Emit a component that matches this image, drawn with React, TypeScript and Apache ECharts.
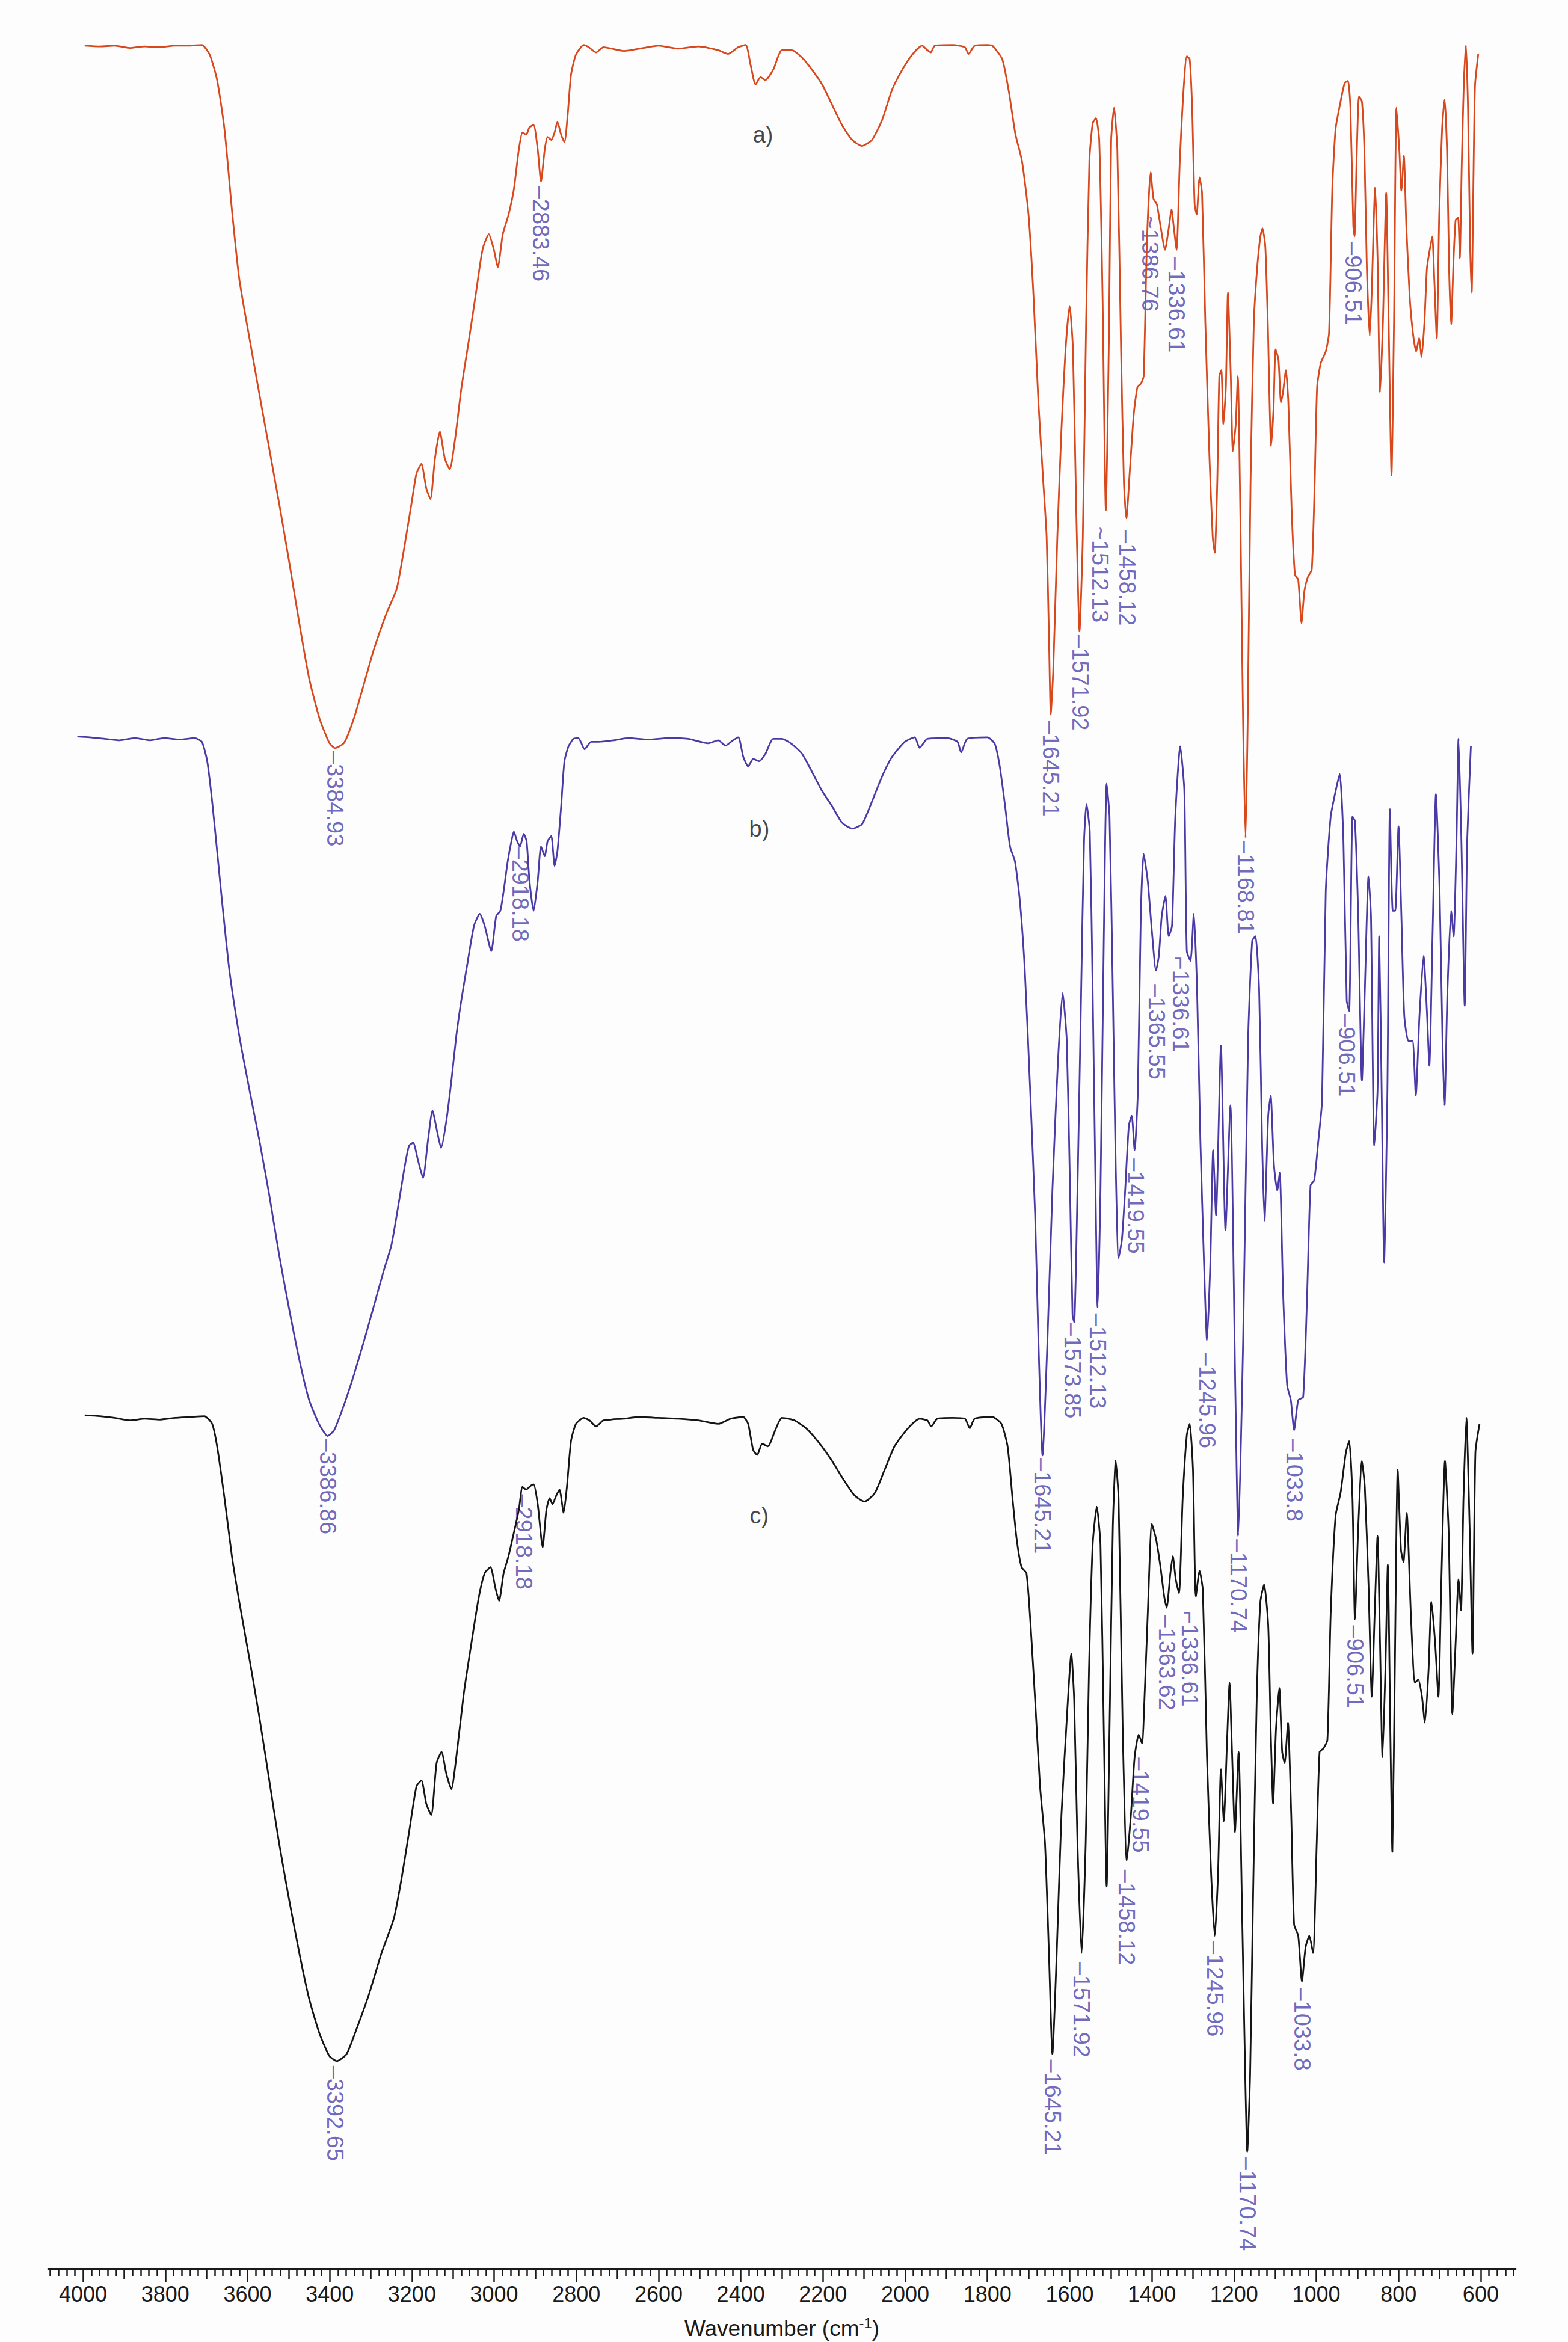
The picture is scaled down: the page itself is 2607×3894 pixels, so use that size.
import React, { useEffect, useRef } from 'react';
import * as echarts from 'echarts';

// Wavenumber (cm-1) vs transmittance-like value (arbitrary %, per trace)
const specA: number[][] = [
  [3996,99.9],[3959,99.8],[3923,99.9],[3887,99.6],[3850,99.8],[3814,99.7],[3777,99.9],[3741,99.9],[3711,100],
  [3692,98.7],[3674,95.3],[3656,88.7],[3638,78],[3620,68.7],[3595,60.7],[3571,53.3],[3547,46],[3523,38.7],[3498,30.7],
  [3474,22.7],[3450,15.3],[3425,10],[3401,6.7],[3387,6],[3365,6.7],[3341,10],[3316,14.7],[3292,19.3],[3262,24],[3237,27.3],
  [3219,32.7],[3201,38.7],[3189,42.7],[3177,44],[3165,40.7],[3155,39.3],[3144,44.7],[3132,48.3],[3120,44.7],[3108,43.3],
  [3095,47.3],[3080,54],[3061,60.7],[3043,67.3],[3028,72.7],[3013,74.7],[3001,72.7],[2991,70.3],[2979,74.7],[2965,77.3],
  [2952,80.7],[2940,86],[2931,88.3],[2922,88],[2914,89],[2904,89.3],[2894,86],[2886,81.7],[2877,86],[2870,87.7],[2861,87.3],
  [2853,88.3],[2846,89.7],[2837,88],[2829,87],[2821,90.7],[2813,96],[2801,98.7],[2782,100],[2770,99.7],[2752,99],[2734,99.7],
  [2685,99.2],[2637,99.6],[2600,99.9],[2552,99.5],[2503,99.8],[2455,99.3],[2431,98.8],[2406,99.7],[2388,100],[2376,97.3],
  [2364,94.7],[2352,95.7],[2340,95.3],[2321,96.7],[2300,99.3],
  [2276,99.3],[2251,98.3],[2227,96.7],[2202,94.7],[2178,92],[2154,89.3],[2129,87.3],[2105,86.5],[2081,87.3],[2056,90],
  [2032,94],[2007,96.7],[1983,98.7],[1959,99.9],[1946,99.3],[1938,99],[1928,99.9],[1885,100],[1855,99.7],[1846,98.8],
  [1831,99.9],[1800,100],
  [1788,99.9],[1764,98.1],[1748,93.8],[1732,88.1],[1716,84.5],[1700,77.3],[1688,66.5],[1676,52.2],[1664,41.4],[1656,34.2],
  [1650,19.9],[1646,10.5],[1640,16.3],[1630,34.2],[1620,48.6],[1610,59.3],[1600,65.1],[1592,59.3],[1584,37.8],[1576,21.6],
  [1568,34.2],[1560,62.9],[1552,84.5],[1544,89.5],[1536,90.2],[1528,87.3],[1520,66.5],[1512,37.8],[1504,62.9],[1499,87.3],
  [1492,91.6],[1484,85.9],[1475,59.3],[1468,41.4],[1462,36.7],[1454,42.8],[1444,50.7],[1435,54.3],[1427,54.7],[1420,55.7],
  [1412,73.7],[1403,83],[1396,79.4],[1388,78.7],[1379,75.8],[1368,72.6],[1360,75.1],[1352,78],[1347,75.8],[1340,72.6],
  [1332,84.5],[1324,93.1],[1315,98.5],[1308,98.1],[1302,91.6],[1296,78.7],[1291,77.3],[1284,82.3],[1278,80.2],[1270,62.9],
  [1260,45],[1252,34.2],[1247,32.1],[1241,41.4],[1236,55.7],[1231,56.5],[1226,49.3],[1220,54.3],[1215,66.9],[1208,55.7],
  [1203,45.7],[1196,49.3],[1191,55.7],[1184,34.2],[1178,9.1],[1172,-6],[1167,9.1],[1160,41.4],[1152,62.9],[1144,70.1],
  [1136,74.4],[1131,75.5],[1124,73],[1118,62.9],[1110,46.4],[1104,51.4],[1099,59.3],[1092,57.9],[1086,52.2],[1081,53.6],
  [1074,56.5],[1068,52.2],[1060,37.8],[1052,29.2],[1044,28.5],[1036,22.7],[1029,27],[1021,28.8],[1011,29.9],[1004,41.4],
  [998,54.3],[989,57.5],[977,59],[969,61.5],[961,80.9],[953,88.8],[941,92.4],[931,94.9],[923,95.2],[917,91.6],[910,75.8],
  [907,74.4],[902,84.5],[896,93.1],[889,92.4],[883,85.9],[877,70.1],[870,61.1],[865,67.2],[857,80.9],[851,71.5],[845,53.6],
  [838,62.9],[830,80.2],[824,62.9],[817,42.5],[811,62.9],[805,91.6],[798,85.9],[793,80.5],[787,85.2],[781,75.8],[773,66.5],
  [765,61.5],[757,59],[750,60.8],[744,58.3],[737,62.9],[731,70.1],[725,72.3],[718,74.4],[713,68.7],[707,60.8],[701,77.3],
  [694,88.8],[688,92.7],[682,85.9],[677,70.1],[672,62.6],[666,71.5],[661,76.6],[655,76.9],[651,71.5],[646,84.5],[641,95.2],
  [636,99.9],[631,91.6],[626,73.7],[622,66.9],[618,80.9],[614,94.5],[606,98.8],
];

const specB: number[][] = [
  [4014,100],[3984,99.9],[3947,99.7],[3911,99.5],[3874,99.8],[3838,99.5],[3802,99.8],[3765,99.6],[3729,99.8],[3711,99.3],
  [3698,96.7],[3686,91.3],[3674,84.7],[3662,78],[3644,68.7],[3620,60],[3595,52.7],[3571,46],[3547,38.7],[3523,30.7],
  [3498,23.3],[3474,16.7],[3450,11.3],[3425,8],[3405,6.5],[3389,7.3],[3365,10.7],[3341,14.7],[3316,19.3],[3292,24],
  [3268,28.7],[3250,32],[3231,38],[3217,42.7],[3207,45.3],[3197,45.7],[3185,43.3],[3173,41],[3161,46],[3150,50],[3139,47.3],
  [3129,45],[3116,48.7],[3104,54],[3092,60],[3080,64.7],[3064,70],[3049,74.7],[3035,76.3],[3023,74.7],[3007,71.3],[2995,76],
  [2985,76.7],[2977,79.3],[2967,83.3],[2958,86],[2952,87.3],[2944,86],[2937,85.3],[2928,87],[2921,86],[2914,80.7],[2904,76.7],
  [2894,80.7],[2886,85.3],[2877,84],[2870,86],[2861,86.7],[2853,82.7],[2846,84.7],[2837,90.7],[2829,96.7],[2819,98.7],
  [2807,99.7],[2795,99.8],[2780,98.3],[2764,99.3],[2746,99.3],[2710,99.5],[2673,99.8],[2625,99.6],[2576,99.8],[2528,99.7],
  [2479,99.1],[2455,99.5],[2437,98.8],[2419,99.5],[2406,99.9],[2394,97.3],[2382,96],[2370,97],[2355,96.7],[2340,97.7],
  [2321,99.7],[2300,99.7],
  [2276,99],[2251,97.7],[2227,95.3],[2202,92.7],[2178,90.7],[2154,88.5],[2129,87.7],[2105,88.3],[2081,91.3],[2056,94.7],
  [2032,97.3],[2001,99.3],[1977,99.9],[1965,98.5],[1946,99.7],[1898,99.8],[1873,99.3],[1864,97.9],[1849,99.7],[1800,99.9],
  [1782,99],[1770,96],[1757,90.7],[1745,85.3],[1733,83.3],[1721,78],[1709,68.7],[1696,52.7],[1684,36],[1676,19.3],[1666,3.9],
  [1654,19.3],[1642,39.3],[1629,56],[1617,65.7],[1607,59.3],[1599,39.3],[1593,22.7],[1589,21.7],[1581,39.3],[1572,66],
  [1565,86],[1559,91],[1551,87.3],[1544,66],[1537,39.3],[1532,23.7],[1525,39.3],[1517,72.7],[1510,93.7],[1503,89.3],
  [1495,66],[1488,42.7],[1481,30.3],[1473,32.7],[1465,39.3],[1456,48],[1449,49.3],[1442,44.7],[1434,52.7],[1427,76],
  [1420,84.3],[1410,80.7],[1400,74],[1390,68.7],[1383,70.7],[1376,76],[1367,78.7],[1359,73.3],[1351,74.7],[1343,89.3],
  [1331,98.7],[1321,92.7],[1315,71.3],[1306,70],[1298,76.3],[1290,66],[1282,46],[1273,29.3],[1266,19.3],[1258,29.3],
  [1251,44.7],[1244,36],[1232,58.7],[1221,34],[1209,50.7],[1197,12.7],[1190,-6.9],[1178,19.3],[1166,59.3],[1156,72.7],
  [1148,73.3],[1139,66],[1132,46],[1126,35.3],[1117,49.3],[1111,52],[1103,42.7],[1095,39.3],[1089,41.7],[1081,26],[1071,13.3],
  [1062,11.3],[1054,7.3],[1044,11.3],[1032,11.7],[1022,26],[1014,40],[1005,40.7],[995,46],[986,51.3],[977,79.3],[965,89.3],
  [953,92.7],[943,95],[934,86],[926,64.7],[920,63.3],[912,89.3],[906,88.7],[898,76],[889,54],[882,66],[873,81.3],[867,76],
  [859,45.3],[851,52.7],[847,73.3],[841,52.7],[835,29.7],[827,52.7],[821,90.3],[814,76.7],[808,76.7],[800,88],[793,76],
  [786,62.7],[776,59.3],[766,59.3],[758,52],[749,62.7],[739,70.7],[731,63.3],[725,56],[717,74],[709,92.3],[700,79.3],
  [693,59.3],[688,50.7],[681,66],[672,76.7],[666,73.3],[659,86],[654,99.7],[647,86],[639,64],[633,86],[624,98.7],
];

const specC: number[][] = [
  [3996,100.3],[3959,100.2],[3923,100],[3887,99.7],[3850,99.9],[3814,99.8],[3777,100],[3741,100.1],[3705,100.2],[3686,99.3],
  [3674,96.7],[3656,90.7],[3638,84],[3620,78.7],[3595,72],[3571,65.3],[3547,58],[3523,50.7],[3498,44],[3474,38],[3450,32.7],
  [3425,28.7],[3401,26.1],[3383,25.5],[3359,26.3],[3334,29.3],[3304,33.3],[3274,38],[3244,42],[3225,46.7],[3207,52],
  [3189,57.3],[3177,58],[3165,55.3],[3153,54],[3140,60],[3128,61.3],[3116,58.7],[3104,57],[3092,60.7],[3074,68],[3055,74],
  [3037,79.3],[3023,82],[3009,82.7],[2997,80.3],[2988,78.8],[2977,82],[2965,84],[2952,86.7],[2940,89.3],[2931,92],[2922,91.7],
  [2912,92.1],[2904,92.3],[2894,90],[2882,85],[2873,89.3],[2865,90.7],[2858,90],[2849,91],[2841,91.7],[2831,89],[2823,92],
  [2813,97.3],[2801,99.3],[2782,100],[2768,99.7],[2752,99],[2734,99.7],[2685,99.9],[2649,100.1],[2600,100],[2552,99.9],
  [2503,99.7],[2455,99.3],[2425,99.9],[2394,100.1],[2382,99.3],[2370,96.3],[2360,95.7],[2348,97],[2334,96.7],[2315,98.7],
  [2300,100],
  [2269,99.7],[2239,98.7],[2208,97],[2178,95],[2148,92.7],[2123,91],[2099,90.3],[2074,91.3],[2050,94],[2026,96.7],[1995,98.7],
  [1965,99.9],[1946,99.7],[1937,99],[1922,99.9],[1885,100],[1855,99.9],[1843,98.8],[1831,99.9],[1788,100.1],[1766,99.3],
  [1751,96.7],[1739,90.7],[1729,86],[1717,82.7],[1705,82],[1695,76],[1684,67.3],[1672,57.3],[1660,50.7],[1650,37.3],
  [1642,26.3],[1632,37.3],[1620,54],[1605,66.7],[1596,72.7],[1589,67.3],[1581,50.7],[1571,38],[1561,50.7],[1553,70.7],
  [1544,85.3],[1534,89.7],[1525,85.3],[1517,64],[1510,45.7],[1503,64],[1495,87.3],[1488,95],[1481,90.7],[1471,64],[1461,48.7],
  [1451,54],[1442,60.7],[1432,63.3],[1424,62.3],[1417,68.7],[1410,77.3],[1400,87.7],[1390,86],[1379,82.7],[1370,79.3],
  [1364,78],[1355,82],[1349,84],[1342,81.3],[1334,79.7],[1325,90.7],[1315,98],[1308,99.3],[1300,94],[1293,79.3],[1284,82.3],
  [1276,80],[1266,60.7],[1256,47.3],[1247,40],[1239,47.3],[1232,59.3],[1225,53.3],[1217,62.7],[1211,69.3],[1205,61.3],
  [1198,52],[1189,61.3],[1181,44],[1173,24],[1168,15],[1161,24],[1154,44],[1145,67.3],[1136,78.7],[1127,80.7],[1117,76],
  [1111,64],[1105,55.3],[1098,64],[1090,68.7],[1083,61.3],[1077,60],[1069,64.7],[1061,54],[1054,41.3],[1044,40],[1035,34.7],
  [1026,38.7],[1017,40],[1008,38],[999,50.7],[992,61.3],[983,61.7],[973,62.7],[965,77.3],[953,88.7],[941,91.3],[928,96],
  [920,97.3],[912,90.7],[906,76.7],[898,87.3],[889,95],[882,92],[873,80.7],[865,67.7],[858,77.3],[851,86.3],[845,74],
  [839,60.7],[832,70.7],[826,83],[820,64],[815,49.7],[809,70.7],[802,94],[794,84.7],[788,83.3],[780,89],[770,77.3],[760,69.3],
  [752,69.7],[743,67.7],[736,64.7],[727,70.7],[720,78.7],[711,74],[703,67.7],[696,80.7],[687,95],[678,86.7],[669,65.7],
  [661,74],[654,81.3],[648,77.7],[642,90.7],[635,100],[627,87.3],[620,72.7],[613,96],[603,99.3],
];

// Peak annotations: [wavenumber position, value, text, leader]
const peaksA: [number, number, string, string][] = [
  [3387, 6, '3384.93', '–'], [2886, 81.5, '2883.46', '–'], [1646, 10, '1645.21', '–'],
  [1574, 21.5, '1571.92', '–'], [1526, 36, '1512.13', '~'], [1460, 35.5, '1458.12', '–'],
  [1404, 77.6, '1386.76', '~'], [1340, 72, '1336.61', '–'], [1172, -6, '1168.81', '–'],
  [910, 74, '906.51', '–'],
];
const peaksB: [number, number, string, string][] = [
  [3405, 6.5, '3386.86', '–'], [2936, 85.7, '2918.18', '–'], [1666, 3.9, '1645.21', '–'],
  [1593, 22, '1573.85', '–'], [1532, 23.3, '1512.13', '–'], [1440, 44, '1419.55', '–'],
  [1388, 67.3, '1365.55', '–'], [1330, 71, '1336.61', '⌐'], [1266, 18, '1245.96', '–'],
  [1190, -6.9, '1170.74', '–'], [1054, 6.5, '1033.8', '–'], [926, 63.3, '906.51', '–'],
];
const peaksC: [number, number, string, string][] = [
  [3387, 25.3, '3392.65', '–'], [2928, 91.5, '2918.18', '–'], [1642, 26, '1645.21', '–'],
  [1571, 37.3, '1571.92', '–'], [1461, 48, '1458.12', '–'], [1428, 61, '1419.55', '–'],
  [1364, 77.5, '1363.62', '–'], [1308, 78, '1336.61', '⌐'], [1247, 39.7, '1245.96', '–'],
  [1168, 14.7, '1170.74', '–'], [1034, 34.3, '1033.8', '–'], [906, 76.3, '906.51', '–'],
];

const traceNames = ['a)', 'b)', 'c)'];
const traceNamePos: number[][] = [[2346, 88], [2355, 87.7], [2355, 88.7]];

const majorTicks: number[] = [600, 800, 1000, 1200, 1400, 1600, 1800, 2000, 2200, 2400, 2600, 2800, 3000, 3200, 3400, 3600, 3800, 4000];
const midTicks: number[] = [700, 900, 1100, 1300, 1500, 1700, 1900, 2100, 2300, 2500, 2700, 2900, 3100, 3300, 3500, 3700, 3900];
const smallTicks: number[] = [];
for (let v = 520; v <= 4080; v += 20) if (v % 100 !== 0) smallTicks.push(v);

const X_MIN = 515;
const X_MAX = 4085;

const COLORS = ['#d8481d', '#4a3aa6', '#141414'];
const LABEL_COLOR = '#4c41aa';
const NARROW = "'Liberation Sans Narrow', 'Arial Narrow', 'Liberation Sans', Arial, sans-serif";
const SANS = "'Liberation Sans', Arial, Helvetica, sans-serif";

function buildOption() {
  const gridLeft = 80;
  const gridRight = 87;
  const grids = [
    { left: gridLeft, right: gridRight, top: 0, height: 1567.2 },
    { left: gridLeft, right: gridRight, top: 1150, height: 1567.2 },
    { left: gridLeft, right: gridRight, top: 2300, height: 1492.8 },
    { left: gridLeft, right: gridRight, top: 3000, height: 772 },
  ];
  const hiddenX = (gi: number) => ({
    gridIndex: gi, type: 'value', min: X_MIN, max: X_MAX, inverse: true, show: false,
  });
  const tickAxis = (values: number[], len: number, showLine: boolean, showLabel: boolean, extra: any = {}) => ({
    gridIndex: 3, type: 'value', min: X_MIN, max: X_MAX, inverse: true, position: 'bottom',
    axisLine: { show: showLine, lineStyle: { color: '#1a1a1a', width: 3 } },
    axisTick: { show: true, customValues: values, length: len, lineStyle: { color: '#1a1a1a', width: 2.5 } },
    axisLabel: showLabel
      ? {
          show: true, customValues: values, margin: 24, color: '#1a1a1a', fontSize: 36, fontFamily: SANS,
          formatter: (v: number) => String(Math.round(v)),
        }
      : { show: false },
    splitLine: { show: false },
    ...extra,
  });
  const xAxis = [
    hiddenX(0), hiddenX(1), hiddenX(2),
    tickAxis(majorTicks, 23, true, true, {
      name: '{a|Wavenumber (cm}{s|-1}{a|)}',
      nameLocation: 'middle',
      nameGap: 74,
      nameTextStyle: {
        rich: {
          a: { fontSize: 37, fontFamily: SANS, color: '#1a1a1a', verticalAlign: 'bottom', lineHeight: 44 },
          s: { fontSize: 24, fontFamily: SANS, color: '#1a1a1a', verticalAlign: 'bottom', lineHeight: 44, padding: [0, 0, 16, 0] },
        },
      },
    }),
    tickAxis(midTicks, 18, false, false),
    tickAxis(smallTicks, 12, false, false),
  ];
  const yAxis = [
    { gridIndex: 0, type: 'value', min: -20, max: 106, show: false },
    { gridIndex: 1, type: 'value', min: -20, max: 106, show: false },
    { gridIndex: 2, type: 'value', min: 0, max: 104, show: false },
    { gridIndex: 3, type: 'value', min: 0, max: 1, show: false },
  ];
  const specs = [specA, specB, specC];
  const peaks = [peaksA, peaksB, peaksC];
  const series: any[] = [];
  specs.forEach((s, i) => {
    series.push({
      type: 'line', xAxisIndex: i, yAxisIndex: i, data: s, showSymbol: false, symbol: 'none',
      smooth: 0.2, clip: false, silent: true,
      lineStyle: { color: COLORS[i], width: 2.8 },
    });
  });
  peaks.forEach((p, i) => {
    series.push({
      type: 'scatter', xAxisIndex: i, yAxisIndex: i, symbolSize: 0, silent: true, clip: false,
      data: p.map((d) => ({ value: [d[0], d[1]], name: d[3] + d[2] })),
      label: {
        show: true, position: 'bottom', distance: 5, rotate: -90, align: 'left', verticalAlign: 'middle',
        formatter: (prm: any) => prm.name, color: LABEL_COLOR, fontSize: 38, fontFamily: NARROW,
      },
    });
  });
  traceNames.forEach((t, i) => {
    series.push({
      type: 'scatter', xAxisIndex: i, yAxisIndex: i, symbolSize: 0, silent: true, clip: false,
      data: [{ value: traceNamePos[i], name: t }],
      label: {
        show: true, position: 'inside', formatter: (prm: any) => prm.name,
        color: '#151515', fontSize: 38, fontFamily: SANS,
      },
    });
  });
  return {
    animation: false,
    backgroundColor: '#fdfdfd',
    grid: grids,
    xAxis,
    yAxis,
    series,
  };
}

export default function App() {
  const ref = useRef<HTMLDivElement>(null);
  useEffect(() => {
    if (!ref.current) return;
    const chart = echarts.init(ref.current, null, { renderer: 'svg' });
    chart.setOption(buildOption() as any);
    return () => chart.dispose();
  }, []);
  return (
    <div
      ref={ref}
      style={{ position: 'absolute', left: 0, top: 0, width: 2607, height: 3894 }}
    />
  );
}
